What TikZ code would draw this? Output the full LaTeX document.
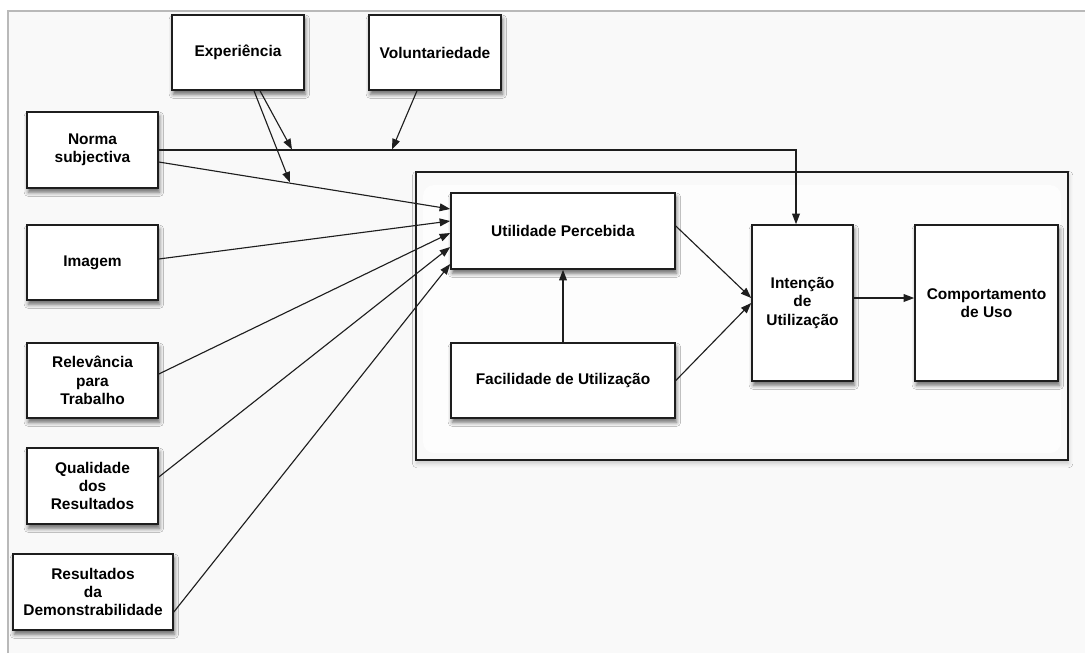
\documentclass[tikz,border=0pt]{standalone}
\usepackage{fontspec}
\setmainfont{Liberation Sans}
\usetikzlibrary{arrows.meta,shadows.blur,calc}
\definecolor{canvas}{HTML}{F9F9F9}
\definecolor{edge}{HTML}{1E1E1E}

\begin{document}
\begin{tikzpicture}[x=0.025cm,y=-0.025cm,
  box/.style={draw=edge, line width=1.1pt, fill=white, align=center,
    font=\fontsize{11}{13}\selectfont\bfseries, inner sep=2pt,
    blur shadow={shadow xshift=1pt, shadow yshift=-3pt,
      shadow blur radius=3pt, shadow opacity=60}},
  link/.style={line width=0.8pt, draw=edge, -{Triangle[length=7.5pt,width=5.5pt]}},
  frame/.style={draw=edge, line width=1.1pt, fill=canvas,
    blur shadow={shadow xshift=0.5pt, shadow yshift=-2.5pt,
      shadow blur radius=3pt, shadow opacity=20}}
]
\useasboundingbox (0,0) rectangle (1085,653);
\fill[white] (0,0) rectangle (1085,653);
\fill[canvas] (8,11) rectangle (1085,653);
\draw[gray!55, line width=0.8pt] (8,653) -- (8,11) -- (1085,11);

% group of the core constructs
\path[frame] (416,172) rectangle (1068,460);
\fill[white, opacity=0.75, rounded corners=8] (423,185) rectangle (1061,453);

% external determinants
\node[box, minimum width=3.3cm, minimum height=1.875cm] (exp) at (238,52.5) {Experiência};
\node[box, minimum width=3.3cm, minimum height=1.875cm] (vol) at (435,52.5) {Voluntariedade};
\node[box, minimum width=3.275cm, minimum height=1.9cm] (norma) at (92.5,150) {Norma\\subjectiva};
\node[box, minimum width=3.275cm, minimum height=1.875cm] (imagem) at (92.5,262.5) {Imagem};
\node[box, minimum width=3.275cm, minimum height=1.875cm] (relev) at (92.5,380.5) {Relevância\\para\\Trabalho};
\node[box, minimum width=3.275cm, minimum height=1.9cm] (qual) at (92.5,486) {Qualidade\\dos\\Resultados};
\node[box, minimum width=4.0cm, minimum height=1.9cm] (result) at (93,592) {Resultados\\da\\Demonstrabilidade};

% core model
\node[box, minimum width=5.6cm, minimum height=1.9cm] (util) at (563,231) {Utilidade Percebida};
\node[box, minimum width=5.6cm, minimum height=1.875cm] (facil) at (563,380.5) {Facilidade de Utilização};
\node[box, minimum width=2.525cm, minimum height=3.9cm] (intencao) at (802.5,303) {Intenção\\de\\Utilização};
\node[box, minimum width=3.575cm, minimum height=3.9cm] (comport) at (986.5,303) {Comportamento\\de Uso};

% subjective norm acts directly on intention
\draw[link] (norma.east) -| ($(intencao.north)+(-6.5,0)$);

% moderators meeting the subjective norm paths
\coordinate (modA) at (292,149.5);
\coordinate (modB) at (290,182.5);
\coordinate (modC) at (392,149.5);
\draw[link] ($(exp.south)+(22,0)$) -- (modA);
\draw[link] ($(exp.south)+(16,0)$) -- (modB);
\draw[link] ($(vol.south)+(-18,0)$) -- (modC);

% determinants of perceived usefulness
\draw[link] ($(norma.east)+(0,12)$) -- ($(util.west)+(0,-22)$);
\draw[link] ($(imagem.east)+(0,-3.5)$) -- ($(util.west)+(0,-10)$);
\draw[link] ($(relev.east)+(0,-6.5)$) -- ($(util.west)+(0,2)$);
\draw[link] ($(qual.east)+(0,-9)$) -- ($(util.west)+(0,16)$);
\draw[link] ($(result.east)+(0,20)$) -- ($(util.west)+(0,33)$);

% core relations
\draw[link] (facil.north) -- (util.south);
\draw[link] ($(util.east)+(0,-5)$) -- ($(intencao.west)+(0,-5)$);
\draw[link] (facil.east) -- (intencao.west);
\draw[link] ($(intencao.east)+(0,-5)$) -- ($(comport.west)+(0,-5)$);
\end{tikzpicture}
\end{document}
